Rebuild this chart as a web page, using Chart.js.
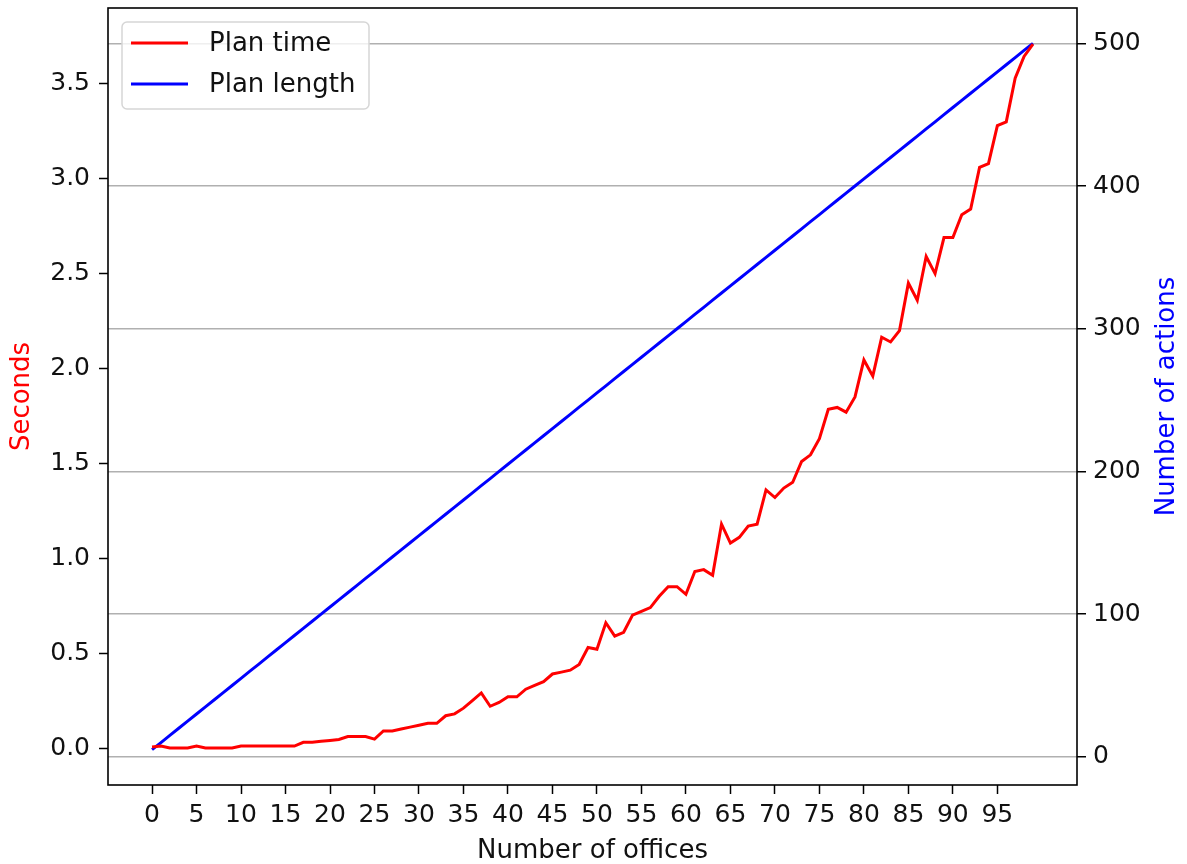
<!DOCTYPE html>
<html>
<head>
    <title>Plan time and plan length</title>
    <script src="https://cdn.jsdelivr.net/npm/chart.js"></script>
    <style>
        body { margin: 0; background: #ffffff; }
    </style>
</head>
<body>
    <canvas id="planChart" width="1187" height="864"></canvas>

    <script>
        const offices = [
            0, 1, 2, 3, 4, 5, 6, 7, 8, 9,
            10, 11, 12, 13, 14, 15, 16, 17, 18, 19,
            20, 21, 22, 23, 24, 25, 26, 27, 28, 29,
            30, 31, 32, 33, 34, 35, 36, 37, 38, 39,
            40, 41, 42, 43, 44, 45, 46, 47, 48, 49,
            50, 51, 52, 53, 54, 55, 56, 57, 58, 59,
            60, 61, 62, 63, 64, 65, 66, 67, 68, 69,
            70, 71, 72, 73, 74, 75, 76, 77, 78, 79,
            80, 81, 82, 83, 84, 85, 86, 87, 88, 89,
            90, 91, 92, 93, 94, 95, 96, 97, 98, 99
        ];

        // seconds
        const planTime = [
            0.005, 0.01, 0.0, 0.0, 0.0, 0.01, 0.0, 0.0, 0.0, 0.0,
            0.01, 0.01, 0.01, 0.01, 0.01, 0.01, 0.01, 0.03, 0.03, 0.035,
            0.04, 0.045, 0.06, 0.06, 0.06, 0.047, 0.09, 0.09, 0.10, 0.11,
            0.12, 0.13, 0.13, 0.17, 0.18, 0.21, 0.25, 0.29, 0.22, 0.24,
            0.27, 0.27, 0.31, 0.33, 0.35, 0.39, 0.40, 0.41, 0.44, 0.53,
            0.52, 0.66, 0.59, 0.61, 0.70, 0.72, 0.74, 0.80, 0.85, 0.85,
            0.81, 0.93, 0.94, 0.91, 1.18, 1.08, 1.11, 1.17, 1.18, 1.36,
            1.32, 1.37, 1.40, 1.51, 1.545, 1.63, 1.785, 1.795, 1.77, 1.85,
            2.045, 1.96, 2.165, 2.14, 2.20, 2.45, 2.36, 2.59, 2.50, 2.69,
            2.69, 2.81, 2.84, 3.06, 3.08, 3.28, 3.30, 3.53, 3.645, 3.71
        ];

        // number of actions
        const planLength = [
            5, 10, 15, 20, 25, 30, 35, 40, 45, 50,
            55, 60, 65, 70, 75, 80, 85, 90, 95, 100,
            105, 110, 115, 120, 125, 130, 135, 140, 145, 150,
            155, 160, 165, 170, 175, 180, 185, 190, 195, 200,
            205, 210, 215, 220, 225, 230, 235, 240, 245, 250,
            255, 260, 265, 270, 275, 280, 285, 290, 295, 300,
            305, 310, 315, 320, 325, 330, 335, 340, 345, 350,
            355, 360, 365, 370, 375, 380, 385, 390, 395, 400,
            405, 410, 415, 420, 425, 430, 435, 440, 445, 450,
            455, 460, 465, 470, 475, 480, 485, 490, 495, 500
        ];

        const officeTicks = [0, 5, 10, 15, 20, 25, 30, 35, 40, 45, 50, 55, 60, 65, 70, 75, 80, 85, 90, 95];
        const secondsTicks = [0, 0.5, 1.0, 1.5, 2.0, 2.5, 3.0, 3.5];
        const actionsTicks = [0, 100, 200, 300, 400, 500];

        const FONT = 'DejaVu Sans';
        const TEXT = '#111111';

        function fixedTicks(values) {
            return function (scale) {
                scale.ticks = values.map(v => ({ value: v }));
            };
        }

        // fixed box size, and no extra room for half labels
        function fitTo(size) {
            return function (scale) {
                if (scale.isHorizontal()) scale.height = size;
                else scale.width = size;
                scale.paddingTop = 0;
                scale.paddingBottom = 0;
                scale.paddingLeft = 0;
                scale.paddingRight = 0;
            };
        }

        // spines all round the plot, like matplotlib
        const framePlugin = {
            id: 'frame',
            afterDatasetsDraw(chart) {
                const { ctx, chartArea: a } = chart;
                ctx.save();
                ctx.strokeStyle = '#000000';
                ctx.lineWidth = 1.6;
                ctx.strokeRect(a.left, a.top, a.right - a.left, a.bottom - a.top);
                ctx.restore();
            }
        };

        // rotated y titles, both read bottom to top
        const sideTitles = {
            id: 'sideTitles',
            afterDraw(chart) {
                const { ctx, chartArea: a } = chart;
                const mid = (a.top + a.bottom) / 2;
                const draw = (text, x, color) => {
                    ctx.save();
                    ctx.translate(x, mid);
                    ctx.rotate(-Math.PI / 2);
                    ctx.font = '26px "' + FONT + '"';
                    ctx.fillStyle = color;
                    ctx.textAlign = 'center';
                    ctx.textBaseline = 'middle';
                    ctx.fillText(text, 0, 0);
                    ctx.restore();
                };
                draw('Seconds', 22, '#ff0000');
                draw('Number of actions', 1167, '#0000ff');
            }
        };

        // legend box in the upper left corner of the plot
        const boxLegend = {
            id: 'boxLegend',
            afterDraw(chart) {
                const { ctx, chartArea: a } = chart;
                const x = a.left + 14, y = a.top + 14, w = 247, h = 87;
                ctx.save();
                ctx.beginPath();
                ctx.roundRect(x, y, w, h, 5);
                ctx.fillStyle = 'rgba(255,255,255,0.8)';
                ctx.fill();
                ctx.strokeStyle = '#d6d6d6';
                ctx.lineWidth = 1.5;
                ctx.stroke();
                ctx.font = '26px "' + FONT + '"';
                ctx.textBaseline = 'middle';
                chart.data.datasets.forEach((ds, i) => {
                    const ly = y + 21 + i * 41;
                    ctx.beginPath();
                    ctx.moveTo(x + 9, ly);
                    ctx.lineTo(x + 66, ly);
                    ctx.strokeStyle = ds.borderColor;
                    ctx.lineWidth = 3;
                    ctx.stroke();
                    ctx.fillStyle = TEXT;
                    ctx.fillText(ds.label, x + 87, ly + 1);
                });
                ctx.restore();
            }
        };

        const ctx = document.getElementById('planChart').getContext('2d');

        const chart = new Chart(ctx, {
            type: 'line',
            data: {
                datasets: [
                    {
                        label: 'Plan time',
                        data: offices.map((o, i) => ({ x: o, y: planTime[i] })),
                        borderColor: '#ff0000',
                        borderWidth: 3,
                        pointRadius: 0,
                        fill: false,
                        yAxisID: 'y'
                    },
                    {
                        label: 'Plan length',
                        data: offices.map((o, i) => ({ x: o, y: planLength[i] })),
                        borderColor: '#0000ff',
                        borderWidth: 3,
                        pointRadius: 0,
                        fill: false,
                        yAxisID: 'y1'
                    }
                ]
            },
            options: {
                responsive: false,
                animation: false,
                devicePixelRatio: 1,
                layout: { padding: { top: 8, left: 0, right: 0, bottom: 0 } },
                plugins: {
                    legend: { display: false },
                    tooltip: { enabled: false }
                },
                scales: {
                    x: {
                        type: 'linear',
                        min: -4.95,
                        max: 103.95,
                        afterBuildTicks: fixedTicks(officeTicks),
                        afterFit: fitTo(79),
                        grid: {
                            drawOnChartArea: false,
                            color: '#000000',
                            tickLength: 9,
                            tickWidth: 1.5
                        },
                        border: { display: false },
                        ticks: {
                            autoSkip: false,
                            maxRotation: 0,
                            padding: 6,
                            color: TEXT,
                            font: { family: FONT, size: 25 }
                        },
                        title: {
                            display: true,
                            text: 'Number of offices',
                            color: TEXT,
                            padding: 0,
                            font: { family: FONT, size: 26, lineHeight: 1 }
                        }
                    },
                    y: {
                        type: 'linear',
                        position: 'left',
                        min: -0.195,
                        max: 3.90,
                        afterBuildTicks: fixedTicks(secondsTicks),
                        afterFit: fitTo(108),
                        grid: {
                            drawOnChartArea: false,
                            color: '#000000',
                            tickLength: 9,
                            tickWidth: 1.5
                        },
                        border: { display: false },
                        ticks: {
                            padding: 9,
                            color: TEXT,
                            font: { family: FONT, size: 25 },
                            callback: v => v.toFixed(1)
                        }
                    },
                    y1: {
                        type: 'linear',
                        position: 'right',
                        min: -19.75,
                        max: 524.75,
                        afterBuildTicks: fixedTicks(actionsTicks),
                        afterFit: fitTo(110),
                        grid: {
                            drawOnChartArea: true,
                            color: '#b0b0b0',
                            lineWidth: 1.5,
                            tickColor: '#000000',
                            tickLength: 9,
                            tickWidth: 1.5
                        },
                        border: { display: false },
                        ticks: {
                            padding: 7,
                            color: TEXT,
                            font: { family: FONT, size: 25 },
                            callback: v => String(v)
                        }
                    }
                }
            },
            plugins: [framePlugin, sideTitles, boxLegend]
        });
    </script>
</body>
</html>
